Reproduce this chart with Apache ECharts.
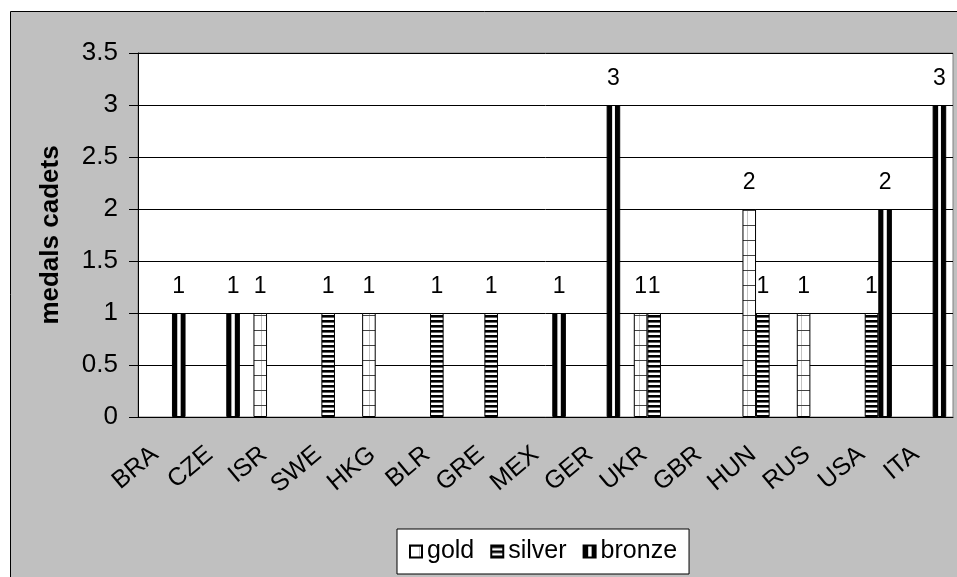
<!DOCTYPE html>
<html>
<head>
<meta charset="utf-8">
<script src="https://cdn.jsdelivr.net/npm/echarts@6/dist/echarts.min.js"></script>
<style>
  html, body { margin: 0; padding: 0; background: #fff; }
  #main { width: 957px; height: 577px; }
</style>
</head>
<body>
<div id="main"></div>
<script>
// 数据
var categories = ['BRA', 'CZE', 'ISR', 'SWE', 'HKG', 'BLR', 'GRE', 'MEX', 'GER', 'UKR', 'GBR', 'HUN', 'RUS', 'USA', 'ITA'];
var gold   = [null, null, 1, null, 1, null, null, null, null, 1, null, 2, 1, null, null];
var silver = [null, null, null, 1, null, 1, 1, null, null, 1, null, 1, null, 1, null];
var bronze = [1, 1, null, null, null, null, null, 1, 3, null, null, null, null, 2, 3];
var yTicks = { min: 0, max: 3.5, interval: 0.5 };

// 填充图案
function makePattern(w, h, draw) {
    var c = document.createElement('canvas');
    c.width = w;
    c.height = h;
    draw(c.getContext('2d'));
    return { image: c, repeat: 'repeat' };
}

var goldFill = makePattern(9, 15, function (ctx) {
    ctx.fillStyle = '#fff';
    ctx.fillRect(0, 0, 9, 15);
    ctx.fillStyle = '#c4c4c4';
    ctx.fillRect(0, 0, 1, 15);
    ctx.fillStyle = '#444';
    ctx.fillRect(0, 0, 9, 1);
});

var silverFill = makePattern(4, 5, function (ctx) {
    ctx.fillStyle = '#fff';
    ctx.fillRect(0, 0, 4, 5);
    ctx.fillStyle = '#000';
    ctx.fillRect(0, 0, 4, 2);
    ctx.fillStyle = '#666';
    ctx.fillRect(0, 2, 4, 1);
});

var bronzeFill = {
    type: 'linear', x: 0, y: 0, x2: 1, y2: 0,
    colorStops: [
        { offset: 0, color: '#000' },
        { offset: 0.38, color: '#000' },
        { offset: 0.38, color: '#999' },
        { offset: 0.46, color: '#fff' },
        { offset: 0.57, color: '#fff' },
        { offset: 0.64, color: '#999' },
        { offset: 0.64, color: '#000' },
        { offset: 1, color: '#000' }
    ]
};

var myChart = echarts.init(document.getElementById('main'));

var barLabel = {
    show: true,
    position: 'top',
    distance: 15,
    color: '#000',
    fontSize: 23
};

var option = {
    animation: false,
    textStyle: { fontFamily: 'Liberation Sans, Arial, sans-serif', color: '#000' },
    graphic: [{
        type: 'rect',
        z: -100,
        shape: { x: 10.5, y: 11.5, width: 960, height: 580 },
        style: { fill: '#c0c0c0', stroke: '#000', lineWidth: 1 }
    }],
    grid: {
        left: 138,
        right: 4,
        top: 53,
        bottom: 160,
        show: true,
        backgroundColor: '#fff',
        borderColor: '#808080',
        borderWidth: 1
    },
    legend: {
        left: 397,
        top: 529,
        icon: 'rect',
        itemWidth: 12,
        itemHeight: 12,
        itemGap: 16,
        padding: [10, 12],
        backgroundColor: '#fff',
        borderColor: '#000',
        borderWidth: 1,
        borderRadius: 0,
        textStyle: { fontSize: 25, color: '#000' },
        data: ['gold', 'silver', 'bronze']
    },
    xAxis: {
        type: 'category',
        data: categories,
        axisLine: { lineStyle: { color: '#000', width: 1 } },
        axisTick: { length: 6, lineStyle: { color: '#000' } },
        axisLabel: {
            interval: 0,
            rotate: 40,
            fontSize: 25,
            color: '#000',
            margin: 26,
            padding: [0, 13, 0, 0]
        }
    },
    yAxis: {
        type: 'value',
        min: yTicks.min,
        max: yTicks.max,
        interval: yTicks.interval,
        name: 'medals cadets',
        nameLocation: 'middle',
        nameGap: 74,
        nameTextStyle: { fontSize: 26, fontWeight: 'bold', color: '#000' },
        axisLine: { show: true, lineStyle: { color: '#000', width: 1 } },
        axisTick: { show: true, length: 9, lineStyle: { color: '#000' } },
        axisLabel: { fontSize: 26, color: '#000', margin: 20 },
        splitLine: { lineStyle: { color: '#000', width: 1 } }
    },
    series: [
        {
            name: 'gold',
            type: 'bar',
            barGap: 0,
            barCategoryGap: '25%',
            data: gold,
            label: barLabel,
            itemStyle: { color: goldFill, borderColor: '#000', borderWidth: 1 }
        },
        {
            name: 'silver',
            type: 'bar',
            data: silver,
            label: barLabel,
            itemStyle: { color: silverFill, borderColor: '#000', borderWidth: 1 }
        },
        {
            name: 'bronze',
            type: 'bar',
            data: bronze,
            label: barLabel,
            itemStyle: { color: bronzeFill, borderColor: '#000', borderWidth: 1 }
        }
    ]
};

myChart.setOption(option);
</script>
</body>
</html>
